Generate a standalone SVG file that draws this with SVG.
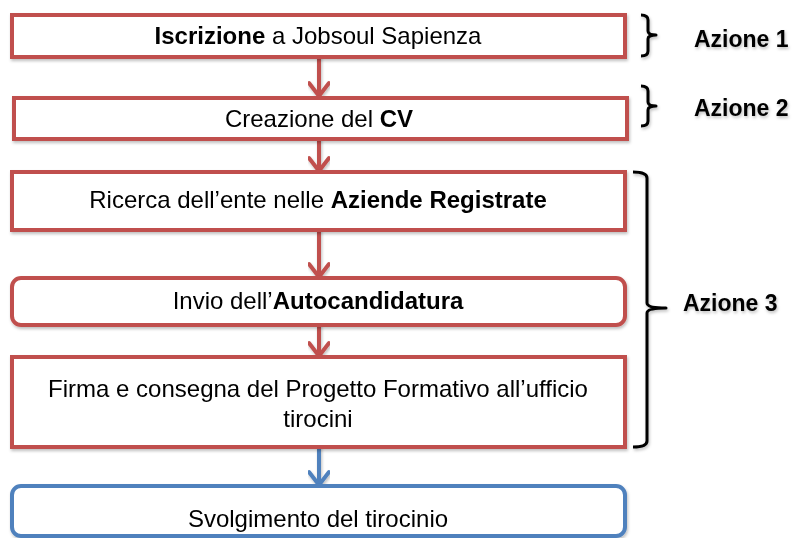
<svg xmlns="http://www.w3.org/2000/svg" width="794" height="538" viewBox="0 0 794 538">
<style>
.box{fill:#fff;stroke:#C0504D;stroke-width:4}
.bbox{fill:#fff;stroke:#4F81BD;stroke-width:4}
.t{font-family:"Liberation Sans",Arial,sans-serif;font-size:24px;fill:#000;text-anchor:middle}
.b{font-weight:bold}
.lbl{font-family:"Liberation Sans",Arial,sans-serif;font-size:23px;font-weight:bold;fill:#000}
.ar{fill:none;stroke:#C0504D;stroke-width:4;stroke-linecap:round;stroke-linejoin:round}
.arb{fill:none;stroke:#4F81BD;stroke-width:4;stroke-linecap:round;stroke-linejoin:round}
.br{fill:none;stroke:#000;stroke-width:3;stroke-linejoin:round}
</style>
<defs>
<filter id="sh" x="-5%" y="-5%" width="110%" height="120%">
<feDropShadow dx="1" dy="2" stdDeviation="1.5" flood-color="#000" flood-opacity="0.25"/>
</filter>
</defs>
<g id="connectors" filter="url(#sh)">
<path class="ar" d="M319 57 V96 M309 83 L319 96 L329 83"/>
<path class="ar" d="M319 139 V171 M309 158 L319 171 L329 158"/>
<path class="ar" d="M319 230 V277 M309 264 L319 277 L329 264"/>
<path class="ar" d="M319 325 V356 M309 343 L319 356 L329 343"/>
<path class="arb" d="M319 447 V485 M309 472 L319 485 L329 472"/>
</g>
<g id="n1" filter="url(#sh)">
<rect class="box" x="12" y="15" width="613" height="42"/>
<text class="t" x="318" y="44"><tspan class="b">Iscrizione</tspan> a Jobsoul Sapienza</text>
</g>
<g id="n2" filter="url(#sh)">
<rect class="box" x="14" y="98" width="613" height="41"/>
<text class="t" x="319" y="127">Creazione del <tspan class="b">CV</tspan></text>
</g>
<g id="n3" filter="url(#sh)">
<rect class="box" x="12" y="172" width="613" height="58"/>
<text class="t" x="318" y="208">Ricerca dell’ente nelle <tspan class="b">Aziende Registrate</tspan></text>
</g>
<g id="n4" filter="url(#sh)">
<rect class="box" x="12" y="278" width="613" height="47" rx="9"/>
<text class="t" x="318" y="309">Invio dell’<tspan class="b">Autocandidatura</tspan></text>
</g>
<g id="n5" filter="url(#sh)">
<rect class="box" x="12" y="357" width="613" height="90"/>
<text class="t" x="318" y="397">Firma e consegna del Progetto Formativo all’ufficio</text>
<text class="t" x="318" y="427">tirocini</text>
</g>
<g id="n6" filter="url(#sh)">
<rect class="bbox" x="12" y="486" width="613" height="50" rx="9"/>
<text class="t" x="318" y="527">Svolgimento del tirocinio</text>
</g>
<g id="brace1" filter="url(#sh)">
<path class="br" d="M641 15 Q648 15 648 20 V31 Q648 35 656 35 Q648 35 648 39 V51 Q648 56 641 56"/>
<text class="lbl" x="694" y="47">Azione 1</text>
</g>
<g id="brace2" filter="url(#sh)">
<path class="br" d="M641 86 Q648 86 648 91 V102 Q648 106 656 106 Q648 106 648 110 V121 Q648 126 641 126"/>
<text class="lbl" x="694" y="116">Azione 2</text>
</g>
<g id="brace3" filter="url(#sh)">
<path class="br" d="M633 172 Q647 172 647 178 V303 Q647 308 666 308 Q647 308 647 313 V441 Q647 447 633 447"/>
<text class="lbl" x="683" y="311">Azione 3</text>
</g>
</svg>
